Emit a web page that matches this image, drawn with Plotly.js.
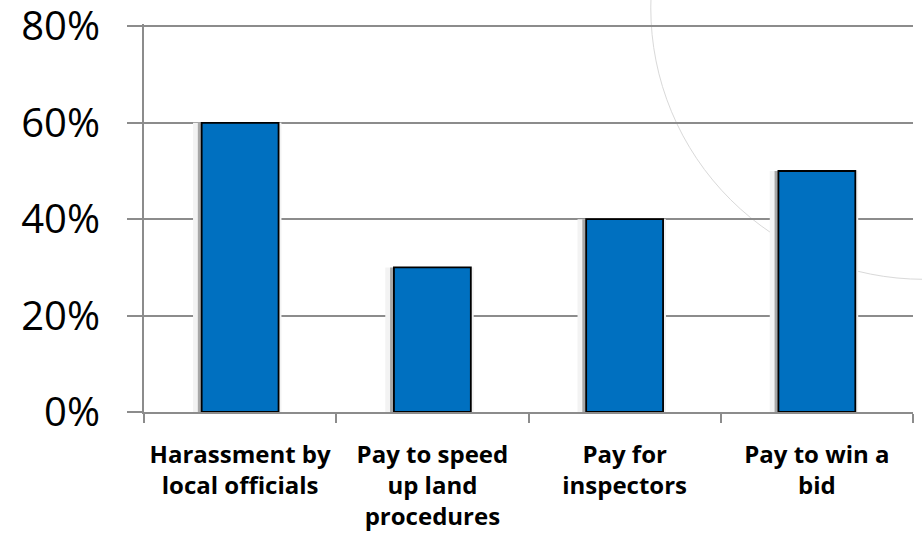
<!DOCTYPE html>
<html>
<head>
<meta charset="utf-8">
<script src="https://cdn.plot.ly/plotly-3.0.1.min.js"></script>
<style>html,body{margin:0;padding:0;background:#fff;}#chart{width:922px;height:537px;}</style>
</head>
<body>
<div id="chart"></div>
<script>
const categories = [
  "Harassment by<br>local officials",
  "Pay to speed<br>up land<br>procedures",
  "Pay for<br>inspectors",
  "Pay to win a<br>bid"
];
const shares = [0.60, 0.30, 0.40, 0.50];
const yTickValues = [0, 0.2, 0.4, 0.6, 0.8];
const yTickLabels = ["0%", "20%", "40%", "60%", "80%"];

const shadow = {
  type: "bar", x: categories, y: shares,
  width: 0.4, offset: -0.22,
  marker: {color: "#a8a8a8", line: {width: 0}},
  hoverinfo: "skip", showlegend: false
};
const halo = {
  type: "bar", x: categories, y: shares,
  width: 0.46, offset: -0.245,
  marker: {color: "#f3f3f3", line: {width: 0}},
  hoverinfo: "skip", showlegend: false
};
const bars = {
  type: "bar", x: categories, y: shares,
  width: 0.4,
  marker: {color: "#0070C0", line: {color: "#000000", width: 1.8}},
  hoverinfo: "skip", showlegend: false
};

const layout = {
  width: 922, height: 537,
  margin: {l: 144, r: 9, t: 24, b: 125},
  paper_bgcolor: "#ffffff", plot_bgcolor: "rgba(0,0,0,0)",
  barmode: "overlay",
  showlegend: false,
  font: {family: "Open Sans, sans-serif", color: "#000"},
  xaxis: {
    type: "category",
    tickson: "boundaries",
    ticks: "outside", ticklen: 9, tickcolor: "#8c8c8c", tickwidth: 2,
    showline: true, linecolor: "#8c8c8c", linewidth: 2,
    showgrid: false,
    tickfont: {family: "Open Sans, sans-serif", size: 24, color: "#000", weight: "bold"},
    ticklabelstandoff: 20,
    fixedrange: true
  },
  yaxis: {
    range: [0, 0.805],
    tickvals: yTickValues, ticktext: yTickLabels,
    ticks: "outside", ticklen: 15, tickcolor: "#8c8c8c", tickwidth: 2,
    showline: true, linecolor: "#8c8c8c", linewidth: 2,
    showgrid: true, gridcolor: "#8c8c8c", gridwidth: 2,
    zeroline: false,
    tickfont: {family: "Open Sans, sans-serif", size: 40, color: "#000"},
    ticklabelstandoff: 19,
    ticklabeloverflow: "allow",
    fixedrange: true
  },
  shapes: [{
    type: "circle", xref: "paper", yref: "paper", layer: "below",
    x0: 0.659, x1: 1.369, y0: 0.342, y1: 1.741,
    line: {color: "#d9d9d9", width: 1}
  }]
};

Plotly.newPlot("chart", [halo, shadow, bars], layout, {staticPlot: true, displayModeBar: false});
</script>
</body>
</html>
